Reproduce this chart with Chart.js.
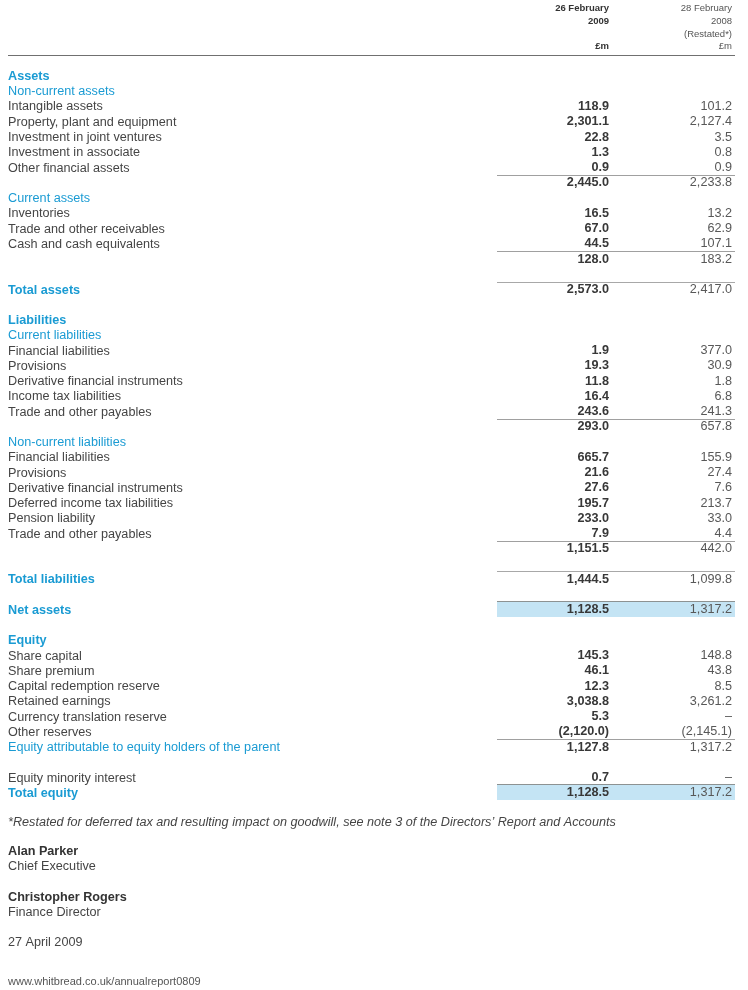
<!DOCTYPE html>
<html>
<head>
<meta charset="utf-8">
<script src="https://cdn.jsdelivr.net/npm/chart.js@4"></script>
<style>
  html, body { margin: 0; padding: 0; background: #ffffff; }
  canvas { display: block; }
</style>
</head>
<body>
<canvas id="sheet" width="748" height="990"></canvas>
<script>
// ---------------- DATA ----------------
const rowLabels = [
  'Assets', 'Non-current assets', 'Intangible assets', 'Property, plant and equipment',
  'Investment in joint ventures', 'Investment in associate', 'Other financial assets', '',
  'Current assets', 'Inventories', 'Trade and other receivables', 'Cash and cash equivalents', '',
  '', 'Total assets', '',
  'Liabilities', 'Current liabilities', 'Financial liabilities', 'Provisions',
  'Derivative financial instruments', 'Income tax liabilities', 'Trade and other payables', '',
  'Non-current liabilities', 'Financial liabilities', 'Provisions', 'Derivative financial instruments',
  'Deferred income tax liabilities', 'Pension liability', 'Trade and other payables', '',
  '', 'Total liabilities', '', 'Net assets', '',
  'Equity', 'Share capital', 'Share premium', 'Capital redemption reserve', 'Retained earnings',
  'Currency translation reserve', 'Other reserves', 'Equity attributable to equity holders of the parent',
  '', 'Equity minority interest', 'Total equity'
];
const rowTypes = [
  'section', 'sub', 'item', 'item', 'item', 'item', 'item', 'subtotal',
  'sub', 'item', 'item', 'item', 'subtotal',
  'blank', 'total', 'blank',
  'section', 'sub', 'item', 'item', 'item', 'item', 'item', 'subtotal',
  'sub', 'item', 'item', 'item', 'item', 'item', 'item', 'subtotal',
  'blank', 'total', 'blank', 'highlight', 'blank',
  'section', 'item', 'item', 'item', 'item', 'item', 'item', 'attrib',
  'blank', 'item', 'highlight'
];
const values2009 = [
  null, null, 118.9, 2301.1, 22.8, 1.3, 0.9, 2445.0,
  null, 16.5, 67.0, 44.5, 128.0,
  null, 2573.0, null,
  null, null, 1.9, 19.3, 11.8, 16.4, 243.6, 293.0,
  null, 665.7, 21.6, 27.6, 195.7, 233.0, 7.9, 1151.5,
  null, 1444.5, null, 1128.5, null,
  null, 145.3, 46.1, 12.3, 3038.8, 5.3, -2120.0, 1127.8,
  null, 0.7, 1128.5
];
const values2008 = [
  null, null, 101.2, 2127.4, 3.5, 0.8, 0.9, 2233.8,
  null, 13.2, 62.9, 107.1, 183.2,
  null, 2417.0, null,
  null, null, 377.0, 30.9, 1.8, 6.8, 241.3, 657.8,
  null, 155.9, 27.4, 7.6, 213.7, 33.0, 4.4, 442.0,
  null, 1099.8, null, 1317.2, null,
  null, 148.8, 43.8, 8.5, 3261.2, 0, -2145.1, 1317.2,
  null, 0, 1317.2
];
const columnHeads2009 = ['26 February', '2009', '', '£m'];
const columnHeads2008 = ['28 February', '2008', '(Restated*)', '£m'];
const footnote = '*Restated for deferred tax and resulting impact on goodwill, see note 3 of the Directors\u2019 Report and Accounts';
const footerLines = [
  ['Alan Parker', 'bold'], ['Chief Executive', 'normal'],
  ['Christopher Rogers', 'bold'], ['Finance Director', 'normal'],
  ['27 April 2009', 'normal']
];
const footerUrl = 'www.whitbread.co.uk/annualreport0809';

// ---------------- STYLE ----------------
const FONT = '"Liberation Sans", Arial, Helvetica, sans-serif';
const FS = 12.65;
const BLUE = '#1a9bd3';
const TEXT = '#454545';
const COL1 = 1, COL2 = 2;

function fmt(v) {
  if (v === 0) return '\u2013';
  const s = Math.abs(v).toFixed(1).replace(/\B(?=(\d{3})+(?!\d))/g, ',');
  return v < 0 ? '(' + s + ')' : s;
}

function toPoints(values, col) {
  return values.map((v, i) => ({ x: v === null ? null : col, y: i, v: v }));
}

const tablePlugin = {
  id: 'balanceSheet',
  beforeDatasetsDraw(chart) {
    const { ctx, scales: { x, y } } = chart;
    const left = Math.round(x.getPixelForValue(COL1)) - 112;
    const right = Math.round(x.getPixelForValue(COL2)) + 3;
    ctx.save();
    rowTypes.forEach((t, i) => {
      const py = y.getPixelForValue(i);
      if (t === 'highlight') {
        const top = Math.round(py - 8);
        ctx.fillStyle = '#c4e4f4';
        ctx.fillRect(left, top, right - left, 16);
        ctx.fillStyle = '#8d9292';
        ctx.fillRect(left, top, right - left, 1);
      } else if (t === 'subtotal' || t === 'total' || t === 'attrib') {
        ctx.fillStyle = t === 'total' ? '#a8a8a8' : '#a0a0a0';
        ctx.fillRect(left, Math.round(py - 7), right - left, 1);
      }
    });
    ctx.restore();
  },
  afterDatasetsDraw(chart) {
    const { ctx } = chart;
    ctx.save();
    ctx.textAlign = 'right';
    ctx.textBaseline = 'middle';
    chart.data.datasets.forEach((ds, d) => {
      const meta = chart.getDatasetMeta(d);
      ctx.font = (d === 0 ? 'bold ' : '') + FS + 'px ' + FONT;
      ctx.fillStyle = d === 0 ? '#383838' : '#585858';
      meta.data.forEach((el, i) => {
        const raw = ds.data[i];
        if (raw.v === null || !isFinite(el.x) || !isFinite(el.y)) return;
        ctx.fillText(fmt(raw.v), el.x, el.y + 1);
      });
    });
    ctx.restore();
  },
  afterDraw(chart) {
    const { ctx, scales: { x } } = chart;
    const c1 = x.getPixelForValue(COL1), c2 = x.getPixelForValue(COL2);
    const headY = [8, 21, 34, 46];
    ctx.save();
    ctx.textBaseline = 'middle';
    ctx.textAlign = 'right';
    ctx.font = 'bold 9.5px ' + FONT;
    ctx.fillStyle = '#333333';
    columnHeads2009.forEach((s, i) => { if (s) ctx.fillText(s, c1, headY[i]); });
    ctx.font = '9.5px ' + FONT;
    ctx.fillStyle = '#555555';
    columnHeads2008.forEach((s, i) => { if (s) ctx.fillText(s, c2, headY[i]); });
    ctx.fillStyle = '#707070';
    ctx.fillRect(8, 55, Math.round(c2) + 3 - 8, 1);

    ctx.textAlign = 'left';
    ctx.fillStyle = TEXT;
    ctx.font = 'italic ' + FS + 'px ' + FONT;
    ctx.fillText(footnote, 8, 822);
    const fy = [852, 867, 898, 913, 943];
    footerLines.forEach(([s, w], i) => {
      ctx.font = (w === 'bold' ? 'bold ' : '') + FS + 'px ' + FONT;
      ctx.fillStyle = w === 'bold' ? '#333333' : TEXT;
      ctx.fillText(s, 8, fy[i]);
    });
    ctx.font = '11px ' + FONT;
    ctx.fillStyle = '#555555';
    ctx.fillText(footerUrl, 8, 982);
    ctx.restore();
  }
};

new Chart(document.getElementById('sheet'), {
  type: 'scatter',
  data: {
    datasets: [
      { label: '26 February 2009', data: toPoints(values2009, COL1), pointRadius: 0, pointHoverRadius: 0 },
      { label: '28 February 2008', data: toPoints(values2008, COL2), pointRadius: 0, pointHoverRadius: 0 }
    ]
  },
  options: {
    responsive: false,
    animation: false,
    devicePixelRatio: 1,
    events: [],
    layout: { padding: { top: 75, bottom: 198, left: 8, right: 0 } },
    plugins: { legend: { display: false }, tooltip: { enabled: false }, title: { display: false } },
    scales: {
      x: { type: 'linear', display: false, min: 0.016, max: 2.13 },
      y: {
        type: 'category',
        labels: rowLabels,
        offset: false,
        grid: { display: false },
        border: { display: false },
        afterFit(scale) { scale.width = 480; },
        ticks: {
          autoSkip: false,
          crossAlign: 'far',
          padding: 0,
          labelOffset: 1.5,
          font: (ctx) => {
            const t = rowTypes[ctx.index];
            const bold = t === 'section' || t === 'total' || t === 'highlight';
            return { family: FONT, size: FS, weight: bold ? 'bold' : 'normal' };
          },
          color: (ctx) => {
            const t = rowTypes[ctx.index];
            return (t === 'item') ? TEXT : BLUE;
          }
        }
      }
    }
  },
  plugins: [tablePlugin]
});
</script>
</body>
</html>
